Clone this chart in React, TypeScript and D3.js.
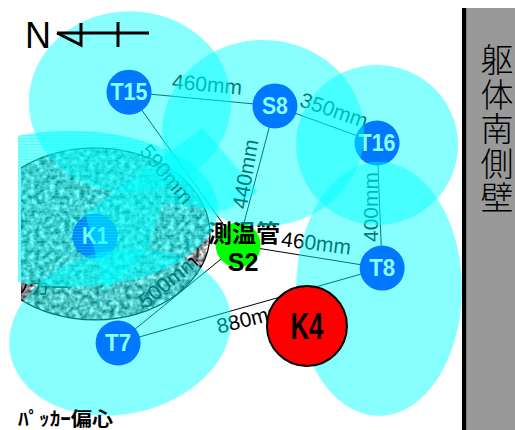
import * as d3 from 'd3';

// plan positions in mm (about 3.125 mm to one pixel)
const sensorNames = ["T15", "S8", "T16", "T8", "T7", "K1"];
const sensorX = [403, 859, 1178, 1194, 369, 297];
const sensorY = [288, 331, 447, 838, 1072, 738];

const zoneX = [406, 822, 1178, 1184, 375];
const zoneY = [319, 416, 453, 903, 1038];
const zoneRx = [316, 316, 253, 259, 350];
const zoneRy = [284, 291, 250, 397, 256];
const zoneTilt = [0, 0, 0, 0, -12];

const linkFrom = ["T15", "S8", "T7", "T8", "T7", "T15", "S8", "T16"];
const linkTo = ["S2", "S2", "S2", "S2", "T8", "S8", "T16", "T8"];

const dimLabels = ["460mm", "350mm", "440mm", "590mm", "500mm", "880mm", "460mm", "400mm"];
const dimX = [647, 1044, 766, 522, 525, 784, 988, 1156];
const dimY = [263, 344, 544, 544, 878, 994, 759, 647];
const dimAngle = [5, 19, -80, 50, -40, -14, 7, -90];

const overlapX = [634, 806, 703, 509, 462, 328, 266];
const overlapY = [400, 600, 659, 634, 781, 912, 666];

const wallText = ["躯", "体", "南", "側", "壁"];

const x = d3.scaleLinear().domain([0, 1609]).range([0, 515]);
const y = d3.scaleLinear().domain([0, 1344]).range([0, 430]);
const len = d3.scaleLinear().domain([0, 3125]).range([0, 1000]);

const S2 = { x: 744, y: 766 };
const K4 = { x: 959, y: 1019 };
const K1zone = { x: 219, y: 653, rx: 462, ry: 244 };
const packer = { x: 297, y: 731, rx: 359, ry: 269 };

const pos = (name: string) => {
    if (name === "S2") return S2;
    const i = sensorNames.indexOf(name);
    return { x: sensorX[i], y: sensorY[i] };
}

const sans = "'Liberation Sans', Arial, sans-serif";
const jp = "'Noto Sans CJK JP', sans-serif";

const App = () => {
    const overlapPath = d3.line<number>()
        .x(i => x(overlapX[i]))
        .y(i => y(overlapY[i]))(overlapX.map((_, i) => i)) + "Z";

    return (
        <svg width={515} height={430} style={{ position: "absolute", left: 0, top: 0, background: "#fff" }}>
            <defs>
                <filter id="grain" x="0" y="0" width="100%" height="100%" colorInterpolationFilters="sRGB">
                    <feTurbulence type="fractalNoise" baseFrequency="0.2" numOctaves={2} seed={4} />
                    <feColorMatrix type="matrix" values="1.7 0 0 0 -0.27  1.7 0 0 0 -0.27  1.7 0 0 0 -0.27  0 0 0 0 1" />
                    <feGaussianBlur stdDeviation={0.5} />
                    <feComposite in2="SourceGraphic" operator="in" />
                </filter>
                <clipPath id="cut"><rect x={21} y={0} width={500} height={430} /></clipPath>
                <clipPath id="cutZone"><rect x={18} y={0} width={500} height={430} /></clipPath>
                <pattern id="stripes" width={4} height={3} patternUnits="userSpaceOnUse">
                    <rect width={4} height={3} fill="#00ffff" fillOpacity={0.52} />
                    <rect width={4} height={1} fill="#00ffff" fillOpacity={0.3} />
                </pattern>
            </defs>

            {/* packer disc */}
            <g clipPath="url(#cut)">
                <ellipse cx={x(packer.x)} cy={y(packer.y)} rx={len(packer.rx)} ry={len(packer.ry)} fill="#bdbdbd" filter="url(#grain)" />
                <ellipse cx={x(packer.x)} cy={y(packer.y)} rx={len(packer.rx)} ry={len(packer.ry)} fill="none" stroke="#000" strokeWidth={1.2} />
                <text x={-10} y={295} fontFamily={jp} fontSize={20}>パッカー</text>
            </g>

            {/* links */}
            {linkFrom.map((name, i) => {
                const a = pos(name), b = pos(linkTo[i]);
                return <line key={i} x1={x(a.x)} y1={y(a.y)} x2={x(b.x)} y2={y(b.y)} stroke="#000" strokeWidth={1} />
            })}

            {/* sensors */}
            {sensorNames.map((name, i) => (
                <g key={name}>
                    <circle cx={x(sensorX[i])} cy={y(sensorY[i])} r={22.5} fill="#0000ff" />
                    <text x={x(sensorX[i])} y={y(sensorY[i]) + 8} textAnchor="middle" fontFamily={sans} fontWeight="bold" fontSize={23} fill="#fff" textLength={name.length > 2 ? 37 : 26} lengthAdjust="spacingAndGlyphs">{name}</text>
                </g>
            ))}

            <circle cx={x(S2.x)} cy={y(S2.y)} r={22.5} fill="#00ff00" />
            <text x={244} y={242} textAnchor="middle" fontFamily={jp} fontWeight="bold" fontSize={24}>測温管</text>
            <text x={243} y={271} textAnchor="middle" fontFamily={sans} fontWeight="bold" fontSize={25}>S2</text>

            <path d={overlapPath} fill="#00ffff" fillOpacity={0.47} />

            {dimLabels.map((label, i) => (
                <text key={i} transform={`translate(${x(dimX[i])},${y(dimY[i])}) rotate(${dimAngle[i]})`} textAnchor="middle" dominantBaseline="central" fontFamily={sans} fontSize={21} fill="#000">{label}</text>
            ))}

            {/* influence zones, laid over everything below */}
            {zoneX.map((_, i) => (
                <ellipse key={i} transform={`translate(${x(zoneX[i])},${y(zoneY[i])}) rotate(${zoneTilt[i]})`} rx={len(zoneRx[i])} ry={len(zoneRy[i])} fill="#00ffff" fillOpacity={0.47} />
            ))}
            <ellipse clipPath="url(#cutZone)" cx={x(K1zone.x)} cy={y(K1zone.y)} rx={len(K1zone.rx)} ry={len(K1zone.ry)} fill="url(#stripes)" />

            <circle cx={x(K4.x)} cy={y(K4.y)} r={40} fill="#ff0000" stroke="#000" strokeWidth={2} />
            <text x={x(K4.x)} y={y(K4.y) + 13} textAnchor="middle" fontFamily={sans} fontWeight="bold" fontSize={36} textLength={33} lengthAdjust="spacingAndGlyphs">K4</text>

            {/* north mark */}
            <text x={25} y={48} fontFamily={sans} fontSize={36} textLength={26} lengthAdjust="spacingAndGlyphs">N</text>
            <g stroke="#000" strokeWidth={3} fill="none">
                <line x1={57} y1={33} x2={149} y2={33} />
                <line x1={118} y1={22} x2={118} y2={47} />
                <path d="M57,33 L81,45 L81,23" />
            </g>

            {/* wall */}
            <rect x={462} y={8} width={4.5} height={422} fill="#000" />
            <rect x={467} y={8} width={48} height={422} fill="#999" />
            {wallText.map((c, i) => (
                <text key={i} x={497} y={72 + i * 34.6} textAnchor="middle" fontFamily={jp} fontWeight={300} fontSize={33}>{c}</text>
            ))}

            <text x={18} y={426} fontFamily={jp} fontWeight="bold" fontSize={19} textLength={95} lengthAdjust="spacingAndGlyphs">ﾊﾟｯｶｰ偏心</text>
        </svg>
    )
}

export default App
